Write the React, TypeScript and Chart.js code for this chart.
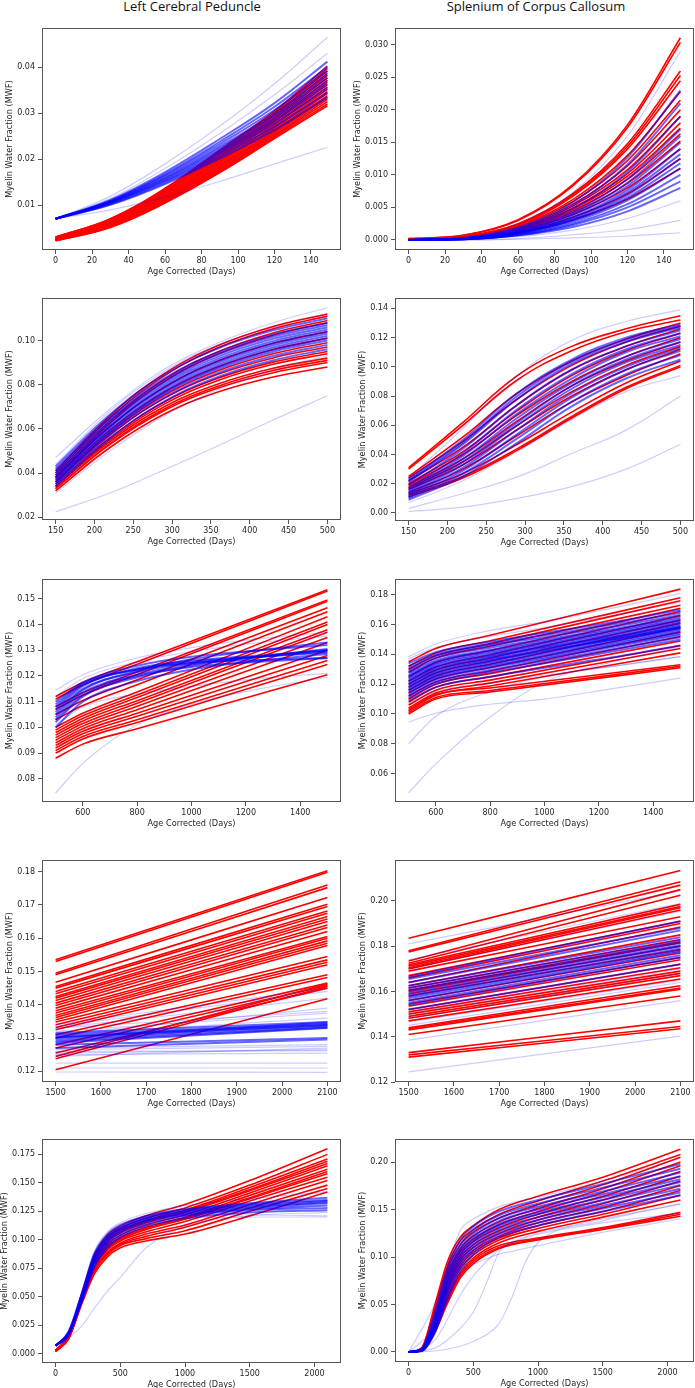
import React, { useEffect, useRef } from 'react';
import { Chart, registerables } from 'chart.js';
Chart.register(...registerables);

// ---------------- Data ----------------
// Ages (days) at which curves were read
const earlyAge = [0, 30, 60, 90, 120, 149];
const midAge = [150, 220, 290, 360, 430, 500];
const lateMidRedAge = [500, 600, 800, 1500];
const lateMidBlueAge = [500, 600, 800, 1000, 1250, 1500];
const lateAge = [1500, 2100];
const fullAge = [0, 100, 200, 300, 400, 500, 700, 1000, 1500, 2100];
const fullFaintAge = [0, 200, 400, 500, 600, 700, 800, 900, 1000, 1500, 2100];

// Tick labels
const earlyAgeTicks = ['0', '20', '40', '60', '80', '100', '120', '140'];
const midAgeTicks = ['150', '200', '250', '300', '350', '400', '450', '500'];
const lateMidAgeTicks = ['600', '800', '1000', '1200', '1400'];
const lateAgeTicks = ['1500', '1600', '1700', '1800', '1900', '2000', '2100'];
const fullAgeTicks = ['0', '500', '1000', '1500', '2000'];
const lcpEarlyMwfTicks = ['0.01', '0.02', '0.03', '0.04'];
const sccEarlyMwfTicks = ['0.000', '0.005', '0.010', '0.015', '0.020', '0.025', '0.030'];
const lcpMidMwfTicks = ['0.02', '0.04', '0.06', '0.08', '0.10'];
const sccMidMwfTicks = ['0.00', '0.02', '0.04', '0.06', '0.08', '0.10', '0.12', '0.14'];
const lcpLateMidMwfTicks = ['0.08', '0.09', '0.10', '0.11', '0.12', '0.13', '0.14', '0.15'];
const sccLateMidMwfTicks = ['0.06', '0.08', '0.10', '0.12', '0.14', '0.16', '0.18'];
const lcpLateMwfTicks = ['0.12', '0.13', '0.14', '0.15', '0.16', '0.17', '0.18'];
const sccLateMwfTicks = ['0.12', '0.14', '0.16', '0.18', '0.20'];
const lcpFullMwfTicks = ['0.000', '0.025', '0.050', '0.075', '0.100', '0.125', '0.150', '0.175'];
const sccFullMwfTicks = ['0.00', '0.05', '0.10', '0.15', '0.20'];

// Left Cerebral Peduncle, 0-149 days
const lcpEarlyRed = [
  [0.0031, 0.0071, 0.0137, 0.022, 0.0305, 0.0402],
  [0.0031, 0.007, 0.0135, 0.0217, 0.0302, 0.0397],
  [0.003, 0.0069, 0.0133, 0.0214, 0.0298, 0.0392],
  [0.003, 0.0068, 0.0131, 0.0211, 0.0295, 0.0387],
  [0.0029, 0.0067, 0.0129, 0.0208, 0.0291, 0.0382],
  [0.0029, 0.0066, 0.0127, 0.0205, 0.0288, 0.0377],
  [0.0028, 0.0065, 0.0125, 0.0202, 0.0284, 0.0372],
  [0.0028, 0.0064, 0.0123, 0.0199, 0.0281, 0.0367],
  [0.0028, 0.0063, 0.0121, 0.0196, 0.0277, 0.0362],
  [0.0027, 0.0062, 0.012, 0.0194, 0.0274, 0.0357],
  [0.0027, 0.0061, 0.0118, 0.0191, 0.027, 0.0352],
  [0.0026, 0.006, 0.0116, 0.0188, 0.0267, 0.0347],
  [0.0026, 0.0059, 0.0114, 0.0185, 0.0263, 0.0343],
  [0.0025, 0.0058, 0.0113, 0.0183, 0.026, 0.0338],
  [0.0025, 0.0057, 0.0111, 0.018, 0.0257, 0.0334],
  [0.0024, 0.0056, 0.011, 0.0178, 0.0254, 0.033],
  [0.0024, 0.0054, 0.0108, 0.0175, 0.0251, 0.0325],
  [0.0023, 0.0053, 0.0107, 0.0173, 0.0248, 0.032],
  [0.0023, 0.0052, 0.0105, 0.0171, 0.0245, 0.0316],
];
const lcpEarlyBlue = [
  [0.0071, 0.0112, 0.0172, 0.0244, 0.0322, 0.0412],
  [0.0071, 0.011, 0.0168, 0.0238, 0.0314, 0.04],
  [0.0071, 0.0109, 0.0165, 0.0233, 0.0307, 0.0392],
  [0.0071, 0.0108, 0.0162, 0.0228, 0.03, 0.0384],
  [0.0071, 0.0107, 0.0159, 0.0224, 0.0295, 0.0377],
  [0.0071, 0.0106, 0.0157, 0.022, 0.0289, 0.037],
  [0.0071, 0.0105, 0.0154, 0.0216, 0.0284, 0.0363],
  [0.0071, 0.0104, 0.0152, 0.0212, 0.0278, 0.0355],
  [0.0071, 0.0102, 0.0149, 0.0207, 0.0271, 0.0345],
  [0.0071, 0.0101, 0.0146, 0.0202, 0.0264, 0.0335],
];
const lcpEarlyBlueFaint = [
  [0.0071, 0.012, 0.019, 0.0272, 0.0364, 0.0465],
  [0.0071, 0.0115, 0.018, 0.0256, 0.034, 0.043],
  [0.0071, 0.009, 0.0118, 0.0152, 0.019, 0.0226],
];

// Splenium of Corpus Callosum, 0-149 days
const sccEarlyRed = [
  [0.0002, 0.0007, 0.0031, 0.0085, 0.0177, 0.0311],
  [0.0002, 0.0007, 0.003, 0.0083, 0.0173, 0.0304],
  [0.0001, 0.0005, 0.0025, 0.0071, 0.0148, 0.026],
  [0.0001, 0.0005, 0.0024, 0.0069, 0.0144, 0.0253],
  [0.0001, 0.0005, 0.0023, 0.0067, 0.014, 0.0245],
  [0.0001, 0.0005, 0.0022, 0.0062, 0.013, 0.0228],
  [0.0001, 0.0004, 0.0021, 0.0059, 0.0122, 0.0215],
  [0.0001, 0.0004, 0.0019, 0.0055, 0.0114, 0.02],
  [0.0001, 0.0004, 0.0018, 0.0052, 0.0108, 0.019],
  [0.0001, 0.0004, 0.0017, 0.0049, 0.0102, 0.018],
  [0.0001, 0.0004, 0.0016, 0.0047, 0.0098, 0.0172],
  [0.0001, 0.0003, 0.0016, 0.0045, 0.0093, 0.0163],
  [0.0001, 0.0003, 0.0015, 0.0042, 0.0087, 0.0152],
  [0.0001, 0.0003, 0.0014, 0.0039, 0.008, 0.014],
  [0.0001, 0.0003, 0.0012, 0.0035, 0.0071, 0.0125],
  [0.0001, 0.0003, 0.0011, 0.0031, 0.0063, 0.011],
];
const sccEarlyBlue = [
  [0, 0.0003, 0.0019, 0.0058, 0.0127, 0.023],
  [0, 0.0003, 0.0017, 0.0053, 0.0116, 0.021],
  [0, 0.0002, 0.0016, 0.0048, 0.0105, 0.019],
  [0, 0.0002, 0.0014, 0.0043, 0.0094, 0.017],
  [0, 0.0002, 0.0013, 0.004, 0.0088, 0.016],
  [0, 0.0002, 0.0012, 0.0038, 0.0083, 0.015],
  [0, 0.0002, 0.0011, 0.0035, 0.0077, 0.014],
  [0, 0.0002, 0.0011, 0.0033, 0.0073, 0.0132],
  [0, 0.0002, 0.001, 0.0031, 0.0069, 0.0125],
  [0, 0.0001, 0.001, 0.003, 0.0065, 0.0118],
  [0, 0.0001, 0.0009, 0.0028, 0.0061, 0.011],
  [0, 0.0001, 0.0008, 0.0025, 0.0055, 0.01],
  [0, 0.0001, 0.0007, 0.0023, 0.005, 0.009],
  [0, 0.0001, 0.0007, 0.002, 0.0044, 0.008],
];
const sccEarlyBlueFaint = [
  [0, 0.0003, 0.0024, 0.0073, 0.016, 0.029],
  [0, 0.0001, 0.0005, 0.0015, 0.0033, 0.006],
  [0, 0, 0.0002, 0.0008, 0.0016, 0.003],
  [0, 0, 0.0001, 0.0003, 0.0006, 0.0011],
];

// Left Cerebral Peduncle, 150-500 days
const lcpMidRed = [
  [0.041, 0.0659, 0.085, 0.0978, 0.1063, 0.112],
  [0.04, 0.0649, 0.084, 0.0968, 0.1053, 0.111],
  [0.039, 0.0635, 0.0824, 0.095, 0.1034, 0.109],
  [0.038, 0.0625, 0.0814, 0.094, 0.1024, 0.108],
  [0.038, 0.0611, 0.0789, 0.0908, 0.0987, 0.104],
  [0.037, 0.0594, 0.0767, 0.0882, 0.0959, 0.101],
  [0.036, 0.0581, 0.0751, 0.0864, 0.094, 0.099],
  [0.036, 0.0574, 0.0738, 0.0848, 0.0921, 0.097],
  [0.035, 0.056, 0.0722, 0.083, 0.0902, 0.095],
  [0.034, 0.055, 0.0712, 0.082, 0.0892, 0.094],
  [0.034, 0.0543, 0.07, 0.0804, 0.0874, 0.092],
  [0.033, 0.0533, 0.069, 0.0794, 0.0864, 0.091],
  [0.033, 0.053, 0.0683, 0.0786, 0.0854, 0.09],
  [0.032, 0.0516, 0.0667, 0.0768, 0.0835, 0.088],
];
const lcpMidBlue = [
  [0.043, 0.0665, 0.0845, 0.0966, 0.1046, 0.11],
  [0.042, 0.0651, 0.0829, 0.0948, 0.1027, 0.108],
  [0.041, 0.0641, 0.0819, 0.0938, 0.1017, 0.107],
  [0.04, 0.0631, 0.0809, 0.0928, 0.1007, 0.106],
  [0.039, 0.0621, 0.0799, 0.0918, 0.0997, 0.105],
  [0.038, 0.0611, 0.0789, 0.0908, 0.0987, 0.104],
  [0.038, 0.0608, 0.0783, 0.09, 0.0978, 0.103],
  [0.037, 0.0598, 0.0773, 0.089, 0.0968, 0.102],
  [0.036, 0.0588, 0.0763, 0.088, 0.0958, 0.101],
  [0.036, 0.0584, 0.0757, 0.0872, 0.0949, 0.1],
  [0.035, 0.0571, 0.0741, 0.0854, 0.093, 0.098],
  [0.034, 0.0557, 0.0724, 0.0836, 0.091, 0.096],
];
const lcpMidBlueFaint = [
  [0.047, 0.069, 0.087, 0.099, 0.108, 0.1148],
  [0.044, 0.068, 0.086, 0.098, 0.106, 0.112],
  [0.0225, 0.031, 0.0415, 0.0525, 0.064, 0.075],
  [0.031, 0.05, 0.066, 0.078, 0.087, 0.093],
];

// Splenium of Corpus Callosum, 150-500 days
const sccMidRed = [
  [0.031, 0.062, 0.094, 0.114, 0.126, 0.135],
  [0.03, 0.06, 0.091, 0.111, 0.124, 0.132],
  [0.025, 0.052, 0.082, 0.104, 0.119, 0.13],
  [0.024, 0.049, 0.078, 0.101, 0.117, 0.128],
  [0.022, 0.045, 0.074, 0.098, 0.114, 0.126],
  [0.02, 0.042, 0.07, 0.094, 0.111, 0.123],
  [0.019, 0.04, 0.067, 0.09, 0.107, 0.12],
  [0.018, 0.037, 0.063, 0.087, 0.104, 0.117],
  [0.017, 0.035, 0.06, 0.083, 0.101, 0.114],
  [0.016, 0.033, 0.057, 0.08, 0.098, 0.112],
  [0.014, 0.03, 0.053, 0.076, 0.094, 0.109],
  [0.013, 0.027, 0.047, 0.069, 0.089, 0.104],
  [0.012, 0.025, 0.044, 0.066, 0.086, 0.101],
  [0.011, 0.024, 0.043, 0.065, 0.085, 0.1],
];
const sccMidBlue = [
  [0.023, 0.05, 0.082, 0.105, 0.12, 0.129],
  [0.022, 0.048, 0.08, 0.1035, 0.1185, 0.128],
  [0.021, 0.047, 0.078, 0.102, 0.117, 0.127],
  [0.019, 0.044, 0.074, 0.098, 0.114, 0.125],
  [0.017, 0.041, 0.071, 0.095, 0.112, 0.123],
  [0.016, 0.039, 0.068, 0.092, 0.11, 0.121],
  [0.015, 0.037, 0.065, 0.089, 0.107, 0.119],
  [0.014, 0.035, 0.062, 0.087, 0.105, 0.117],
  [0.013, 0.033, 0.06, 0.085, 0.103, 0.115],
  [0.012, 0.031, 0.057, 0.082, 0.1, 0.113],
  [0.011, 0.029, 0.054, 0.079, 0.098, 0.111],
  [0.01, 0.027, 0.051, 0.076, 0.095, 0.108],
  [0.009, 0.025, 0.048, 0.073, 0.092, 0.105],
];
const sccMidBlueFaint = [
  [0.024, 0.058, 0.094, 0.118, 0.131, 0.139],
  [0.007, 0.022, 0.042, 0.064, 0.083, 0.094],
  [0.003, 0.0133, 0.0247, 0.0407, 0.0567, 0.08],
  [0.001, 0.004, 0.01, 0.018, 0.03, 0.047],
];

// Left Cerebral Peduncle, 500-1500 days
const lcpLateMidRed = [
  [0.112, 0.1175, 0.1255, 0.1535],
  [0.111, 0.1165, 0.1246, 0.153],
  [0.108, 0.1135, 0.1215, 0.1495],
  [0.107, 0.1125, 0.1206, 0.149],
  [0.105, 0.1105, 0.1185, 0.1465],
  [0.103, 0.1085, 0.1166, 0.145],
  [0.1, 0.1055, 0.1138, 0.143],
  [0.099, 0.1045, 0.1126, 0.141],
  [0.098, 0.1035, 0.1116, 0.14],
  [0.097, 0.1025, 0.1104, 0.138],
  [0.096, 0.1015, 0.1094, 0.137],
  [0.095, 0.1005, 0.1082, 0.135],
  [0.094, 0.0995, 0.1069, 0.133],
  [0.093, 0.0985, 0.1055, 0.13],
  [0.092, 0.0975, 0.1043, 0.128],
  [0.091, 0.0965, 0.103, 0.126],
  [0.09, 0.0955, 0.1019, 0.1245],
  [0.088, 0.0935, 0.0995, 0.1205],
];
const lcpLateMidBlue = [
  [0.108, 0.1165, 0.1225, 0.1255, 0.1275, 0.129],
  [0.106, 0.115, 0.1215, 0.125, 0.1275, 0.1295],
  [0.104, 0.1135, 0.1205, 0.1245, 0.1275, 0.13],
  [0.102, 0.112, 0.1195, 0.124, 0.1275, 0.1305],
  [0.105, 0.1145, 0.122, 0.1265, 0.13, 0.133],
  [0.107, 0.116, 0.123, 0.126, 0.128, 0.13],
  [0.11, 0.1175, 0.124, 0.1275, 0.13, 0.132],
  [0.1, 0.11, 0.118, 0.1225, 0.126, 0.1285],
  [0.103, 0.1125, 0.12, 0.1235, 0.1255, 0.127],
  [0.109, 0.117, 0.1225, 0.125, 0.1262, 0.127],
];
const lcpLateMidBlueFaint = [
  [0.1145, 0.1205, 0.127, 0.131, 0.1345, 0.137],
  [0.112, 0.119, 0.1255, 0.1295, 0.133, 0.1355],
  [0.0745, 0.086, 0.101, 0.109, 0.115, 0.1195],
  [0.101, 0.108, 0.113, 0.116, 0.119, 0.121],
];

// Splenium of Corpus Callosum, 500-1500 days
const sccLateMidRed = [
  [0.135, 0.144, 0.1528, 0.1838],
  [0.132, 0.141, 0.1492, 0.178],
  [0.13, 0.139, 0.1472, 0.176],
  [0.128, 0.1375, 0.1454, 0.173],
  [0.125, 0.1345, 0.1426, 0.171],
  [0.122, 0.1315, 0.1398, 0.169],
  [0.12, 0.1295, 0.1376, 0.166],
  [0.118, 0.1275, 0.1354, 0.163],
  [0.116, 0.1255, 0.1334, 0.161],
  [0.114, 0.1235, 0.1312, 0.158],
  [0.112, 0.1215, 0.1289, 0.155],
  [0.11, 0.12, 0.1271, 0.152],
  [0.108, 0.118, 0.1249, 0.149],
  [0.106, 0.116, 0.1227, 0.146],
  [0.104, 0.114, 0.1207, 0.144],
  [0.102, 0.1125, 0.1188, 0.141],
  [0.103, 0.113, 0.1174, 0.133],
  [0.101, 0.111, 0.1157, 0.132],
  [0.1, 0.11, 0.1147, 0.131],
];
const sccLateMidBlue = [
  [0.134, 0.1415, 0.1485, 0.1545, 0.1615, 0.17],
  [0.132, 0.14, 0.147, 0.153, 0.16, 0.168],
  [0.1305, 0.139, 0.146, 0.1515, 0.1585, 0.1665],
  [0.129, 0.1375, 0.1445, 0.15, 0.157, 0.165],
  [0.1275, 0.136, 0.143, 0.149, 0.156, 0.164],
  [0.126, 0.135, 0.142, 0.148, 0.155, 0.163],
  [0.125, 0.134, 0.141, 0.147, 0.154, 0.162],
  [0.124, 0.133, 0.14, 0.146, 0.153, 0.161],
  [0.123, 0.132, 0.139, 0.145, 0.152, 0.16],
  [0.122, 0.131, 0.1385, 0.1445, 0.1515, 0.159],
  [0.121, 0.13, 0.1375, 0.1435, 0.1505, 0.1585],
  [0.12, 0.129, 0.1365, 0.1425, 0.15, 0.158],
  [0.119, 0.128, 0.136, 0.142, 0.15, 0.1575],
  [0.118, 0.127, 0.135, 0.141, 0.149, 0.157],
  [0.117, 0.126, 0.134, 0.14, 0.148, 0.156],
  [0.116, 0.125, 0.133, 0.139, 0.147, 0.155],
  [0.115, 0.124, 0.132, 0.138, 0.146, 0.154],
  [0.114, 0.123, 0.131, 0.137, 0.145, 0.153],
  [0.1125, 0.1215, 0.1295, 0.1355, 0.1435, 0.1515],
  [0.111, 0.12, 0.128, 0.134, 0.142, 0.15],
  [0.109, 0.118, 0.125, 0.131, 0.138, 0.146],
];
const sccLateMidBlueFaint = [
  [0.1385, 0.147, 0.156, 0.162, 0.171, 0.181],
  [0.137, 0.1445, 0.152, 0.158, 0.166, 0.175],
  [0.107, 0.115, 0.121, 0.126, 0.132, 0.1385],
  [0.0945, 0.1005, 0.1065, 0.11, 0.117, 0.124],
  [0.08, 0.0985, 0.115, 0.125, 0.132, 0.1385],
  [0.047, 0.0665, 0.098, 0.1215, 0.135, 0.145],
];

// Left Cerebral Peduncle, 1500-2100 days (start, end)
const lcpLateRed = [
  [0.1535, 0.1803], [0.153, 0.1798], [0.1495, 0.176], [0.149, 0.1752],
  [0.1468, 0.1722], [0.1455, 0.1702], [0.145, 0.1695], [0.144, 0.1682],
  [0.1433, 0.1675], [0.1425, 0.1665], [0.142, 0.1658], [0.1413, 0.165],
  [0.1405, 0.164], [0.1398, 0.1632], [0.139, 0.162], [0.1382, 0.1605],
  [0.1375, 0.16], [0.1368, 0.1592], [0.1362, 0.1585], [0.1355, 0.1578],
  [0.1348, 0.1545], [0.134, 0.1535], [0.1332, 0.1528], [0.1325, 0.152],
  [0.131, 0.149], [0.13, 0.1482], [0.128, 0.1465], [0.127, 0.1458],
  [0.1255, 0.145], [0.1245, 0.1462], [0.1238, 0.1455], [0.1205, 0.1418],
];
const lcpLateBlue = [
  [0.13, 0.134], [0.1295, 0.1335], [0.1305, 0.1338], [0.131, 0.1342],
  [0.129, 0.1332], [0.1302, 0.1346], [0.1285, 0.133], [0.1315, 0.1348],
  [0.128, 0.13], [0.127, 0.1296],
];
const lcpLateBlueFaint = [
  [0.132, 0.1375], [0.133, 0.138], [0.131, 0.136], [0.1335, 0.144],
  [0.133, 0.142], [0.134, 0.145], [0.1265, 0.1275], [0.1255, 0.1265],
  [0.125, 0.1255], [0.1245, 0.127], [0.1225, 0.1225], [0.121, 0.121],
  [0.1198, 0.1197], [0.127, 0.128], [0.131, 0.139], [0.129, 0.135], [0.126, 0.1262],
];

// Splenium of Corpus Callosum, 1500-2100 days (start, end)
const sccLateRed = [
  [0.1835, 0.2135], [0.178, 0.2085], [0.1775, 0.207], [0.1735, 0.205],
  [0.1725, 0.2025], [0.1718, 0.1985], [0.1712, 0.1975], [0.1705, 0.197],
  [0.17, 0.196], [0.169, 0.193], [0.167, 0.191], [0.166, 0.19],
  [0.164, 0.1885], [0.1625, 0.185], [0.1615, 0.183], [0.1605, 0.182],
  [0.16, 0.1815], [0.159, 0.18], [0.158, 0.1785], [0.156, 0.177],
  [0.1545, 0.175], [0.1535, 0.174], [0.152, 0.172], [0.151, 0.1705],
  [0.15, 0.169], [0.149, 0.168], [0.1482, 0.167], [0.147, 0.1655],
  [0.144, 0.1625], [0.1435, 0.1615], [0.143, 0.161], [0.141, 0.158],
  [0.133, 0.147], [0.132, 0.1445], [0.131, 0.1435],
];
const sccLateBlue = [
  [0.1665, 0.191], [0.1655, 0.188], [0.164, 0.187], [0.1625, 0.184],
  [0.1615, 0.1825], [0.1605, 0.1815], [0.1595, 0.1805], [0.1585, 0.18],
  [0.1578, 0.179], [0.157, 0.178], [0.156, 0.1775], [0.155, 0.176],
  [0.154, 0.175], [0.152, 0.172],
];
const sccLateBlueFaint = [
  [0.181, 0.2045], [0.174, 0.199], [0.17, 0.1955], [0.1505, 0.17],
  [0.148, 0.168], [0.1465, 0.165], [0.145, 0.164], [0.1385, 0.156], [0.1245, 0.1403],
];

// Left Cerebral Peduncle, 0-2100 days
const lcpFullRed = [
  [0.003, 0.016, 0.052, 0.087, 0.104, 0.112, 0.121, 0.131, 0.152, 0.18],
  [0.003, 0.016, 0.051, 0.085, 0.102, 0.11, 0.119, 0.128, 0.148, 0.175],
  [0.003, 0.015, 0.05, 0.083, 0.1, 0.108, 0.117, 0.126, 0.146, 0.171],
  [0.003, 0.015, 0.049, 0.082, 0.099, 0.107, 0.116, 0.125, 0.144, 0.169],
  [0.003, 0.015, 0.049, 0.081, 0.098, 0.106, 0.115, 0.124, 0.143, 0.167],
  [0.003, 0.015, 0.048, 0.079, 0.096, 0.104, 0.113, 0.122, 0.141, 0.165],
  [0.003, 0.014, 0.047, 0.078, 0.094, 0.102, 0.111, 0.12, 0.139, 0.162],
  [0.002, 0.014, 0.047, 0.077, 0.093, 0.101, 0.11, 0.119, 0.137, 0.16],
  [0.002, 0.014, 0.046, 0.076, 0.092, 0.1, 0.109, 0.118, 0.136, 0.158],
  [0.002, 0.014, 0.046, 0.075, 0.091, 0.099, 0.107, 0.116, 0.134, 0.155],
  [0.002, 0.014, 0.045, 0.074, 0.089, 0.097, 0.105, 0.113, 0.131, 0.152],
  [0.002, 0.013, 0.044, 0.073, 0.088, 0.096, 0.103, 0.111, 0.128, 0.148],
  [0.002, 0.013, 0.044, 0.072, 0.087, 0.095, 0.101, 0.108, 0.125, 0.145],
  [0.002, 0.013, 0.043, 0.07, 0.085, 0.093, 0.099, 0.105, 0.121, 0.142],
];
const lcpFullBlue = [
  [0.007, 0.019, 0.052, 0.088, 0.105, 0.113, 0.121, 0.127, 0.132, 0.137],
  [0.007, 0.019, 0.051, 0.086, 0.103, 0.111, 0.12, 0.126, 0.131, 0.135],
  [0.007, 0.018, 0.05, 0.085, 0.102, 0.11, 0.119, 0.125, 0.13, 0.134],
  [0.007, 0.018, 0.049, 0.083, 0.1, 0.109, 0.118, 0.124, 0.129, 0.133],
  [0.007, 0.018, 0.048, 0.082, 0.099, 0.108, 0.117, 0.123, 0.128, 0.132],
  [0.007, 0.017, 0.047, 0.08, 0.097, 0.106, 0.116, 0.122, 0.127, 0.13],
  [0.007, 0.017, 0.046, 0.078, 0.095, 0.104, 0.114, 0.121, 0.126, 0.128],
  [0.007, 0.016, 0.045, 0.076, 0.093, 0.102, 0.112, 0.119, 0.124, 0.126],
];
const lcpFullBlueFaint = [
  [0.007, 0.014, 0.024, 0.04, 0.055, 0.067, 0.093, 0.112, 0.121, 0.124],
  [0.007, 0.018, 0.05, 0.084, 0.101, 0.11, 0.118, 0.121, 0.122, 0.121],
  [0.007, 0.017, 0.047, 0.08, 0.097, 0.106, 0.115, 0.119, 0.12, 0.12],
  [0.007, 0.02, 0.054, 0.09, 0.107, 0.115, 0.123, 0.13, 0.136, 0.142],
];

// Splenium of Corpus Callosum, 0-2100 days
const sccFullRed = [
  [0, 0.004, 0.048, 0.095, 0.121, 0.133, 0.15, 0.164, 0.184, 0.2135],
  [0, 0.004, 0.045, 0.091, 0.117, 0.129, 0.145, 0.159, 0.18, 0.208],
  [0, 0.004, 0.042, 0.087, 0.113, 0.126, 0.141, 0.155, 0.176, 0.205],
  [0, 0.003, 0.04, 0.083, 0.109, 0.122, 0.137, 0.151, 0.172, 0.2],
  [0, 0.003, 0.038, 0.08, 0.106, 0.119, 0.134, 0.148, 0.168, 0.196],
  [0, 0.003, 0.036, 0.077, 0.103, 0.116, 0.131, 0.145, 0.164, 0.19],
  [0, 0.003, 0.034, 0.074, 0.1, 0.113, 0.128, 0.142, 0.16, 0.185],
  [0, 0.002, 0.032, 0.071, 0.097, 0.11, 0.125, 0.139, 0.156, 0.18],
  [0, 0.002, 0.03, 0.068, 0.094, 0.107, 0.122, 0.136, 0.152, 0.175],
  [0, 0.002, 0.028, 0.065, 0.091, 0.105, 0.12, 0.133, 0.148, 0.17],
  [0, 0.002, 0.026, 0.062, 0.088, 0.102, 0.118, 0.13, 0.145, 0.165],
  [0, 0.002, 0.024, 0.058, 0.084, 0.099, 0.115, 0.127, 0.142, 0.16],
  [0, 0.002, 0.022, 0.055, 0.082, 0.097, 0.112, 0.12, 0.131, 0.147],
  [0, 0.002, 0.021, 0.053, 0.08, 0.095, 0.11, 0.119, 0.13, 0.145],
  [0, 0.001, 0.02, 0.051, 0.078, 0.093, 0.109, 0.118, 0.129, 0.143],
];
const sccFullBlue = [
  [0, 0.003, 0.04, 0.088, 0.118, 0.132, 0.148, 0.16, 0.177, 0.198],
  [0, 0.003, 0.036, 0.083, 0.113, 0.128, 0.144, 0.156, 0.173, 0.193],
  [0, 0.002, 0.033, 0.079, 0.109, 0.124, 0.141, 0.153, 0.169, 0.189],
  [0, 0.002, 0.031, 0.076, 0.106, 0.121, 0.138, 0.15, 0.166, 0.185],
  [0, 0.002, 0.029, 0.073, 0.103, 0.118, 0.135, 0.147, 0.163, 0.182],
  [0, 0.002, 0.027, 0.07, 0.1, 0.116, 0.133, 0.145, 0.16, 0.179],
  [0, 0.002, 0.025, 0.067, 0.097, 0.113, 0.13, 0.142, 0.157, 0.176],
  [0, 0.001, 0.023, 0.064, 0.094, 0.11, 0.127, 0.139, 0.154, 0.172],
  [0, 0.001, 0.021, 0.06, 0.09, 0.107, 0.124, 0.136, 0.151, 0.168],
  [0, 0.001, 0.019, 0.056, 0.086, 0.103, 0.121, 0.133, 0.148, 0.165],
];
// read at fullFaintAge
const sccFullBlueFaint = [
  [0, 0.05, 0.128, 0.14, 0.147, 0.153, 0.157, 0.16, 0.163, 0.18, 0.204],
  [0, 0.004, 0.025, 0.042, 0.072, 0.105, 0.115, 0.12, 0.124, 0.136, 0.146],
  [0, 0.001, 0.006, 0.011, 0.018, 0.03, 0.058, 0.094, 0.115, 0.138, 0.156],
  [0, 0.025, 0.082, 0.092, 0.098, 0.103, 0.106, 0.109, 0.112, 0.126, 0.14],
  [0, 0.012, 0.06, 0.08, 0.095, 0.108, 0.116, 0.121, 0.125, 0.14, 0.156],
];

// ---------------- Layout & style ----------------
type Kind = 'red' | 'blue' | 'faint';
type Group = { age: number[]; curves: number[][]; kind: Kind };
type PanelSpec = {
  col: 0 | 1;
  plot: [number, number, number, number];
  xRange: [number, number];
  yRange: [number, number];
  xTicks: string[];
  yTicks: string[];
  yTitleX: number;
  smooth: 'spline' | 'monotone';
  groups: Group[];
};

const STYLE: Record<Kind, { color: string; width: number; order: number }> = {
  red: { color: 'rgba(255,0,0,1)', width: 1.6, order: 3 },
  blue: { color: 'rgba(0,0,255,0.6)', width: 2, order: 2 },
  faint: { color: 'rgba(0,0,255,0.2)', width: 1.2, order: 1 },
};

const AXIS_COLOR = '#555555';
const TEXT_COLOR = '#262626';
const TICK_FONT = { family: '"DejaVu Sans", sans-serif', size: 8 };
const LABEL_FONT = { family: '"DejaVu Sans", sans-serif', size: 8.2 };

const panels: PanelSpec[] = [
  {
    col: 0, plot: [42, 28, 341, 250], xRange: [-7.45, 156.45], yRange: [0.0003, 0.0485],
    xTicks: earlyAgeTicks, yTicks: lcpEarlyMwfTicks, yTitleX: 10, smooth: 'spline',
    groups: [
      { age: earlyAge, curves: lcpEarlyRed, kind: 'red' },
      { age: earlyAge, curves: lcpEarlyBlue, kind: 'blue' },
      { age: earlyAge, curves: lcpEarlyBlueFaint, kind: 'faint' },
    ],
  },
  {
    col: 1, plot: [395, 28, 694, 250], xRange: [-7.45, 156.45], yRange: [-0.00155, 0.0326],
    xTicks: earlyAgeTicks, yTicks: sccEarlyMwfTicks, yTitleX: 357.7, smooth: 'monotone',
    groups: [
      { age: earlyAge, curves: sccEarlyRed, kind: 'red' },
      { age: earlyAge, curves: sccEarlyBlue, kind: 'blue' },
      { age: earlyAge, curves: sccEarlyBlueFaint, kind: 'faint' },
    ],
  },
  {
    col: 0, plot: [42, 298, 341, 520], xRange: [132.5, 517.5], yRange: [0.0188, 0.1192],
    xTicks: midAgeTicks, yTicks: lcpMidMwfTicks, yTitleX: 10, smooth: 'spline',
    groups: [
      { age: midAge, curves: lcpMidRed, kind: 'red' },
      { age: midAge, curves: lcpMidBlue, kind: 'blue' },
      { age: midAge, curves: lcpMidBlueFaint, kind: 'faint' },
    ],
  },
  {
    col: 1, plot: [395, 298, 694, 520.5], xRange: [132.5, 517.5], yRange: [-0.0055, 0.1471],
    xTicks: midAgeTicks, yTicks: sccMidMwfTicks, yTitleX: 363, smooth: 'spline',
    groups: [
      { age: midAge, curves: sccMidRed, kind: 'red' },
      { age: midAge, curves: sccMidBlue, kind: 'blue' },
      { age: midAge, curves: sccMidBlueFaint, kind: 'faint' },
    ],
  },
  {
    col: 0, plot: [42, 579, 341, 801.5], xRange: [450, 1550], yRange: [0.071, 0.1577],
    xTicks: lateMidAgeTicks, yTicks: lcpLateMidMwfTicks, yTitleX: 9.5, smooth: 'monotone',
    groups: [
      { age: lateMidRedAge, curves: lcpLateMidRed, kind: 'red' },
      { age: lateMidBlueAge, curves: lcpLateMidBlue, kind: 'blue' },
      { age: lateMidBlueAge, curves: lcpLateMidBlueFaint, kind: 'faint' },
    ],
  },
  {
    col: 1, plot: [395, 579, 694, 801.5], xRange: [450, 1550], yRange: [0.0409, 0.1906],
    xTicks: lateMidAgeTicks, yTicks: sccLateMidMwfTicks, yTitleX: 363, smooth: 'monotone',
    groups: [
      { age: lateMidRedAge, curves: sccLateMidRed, kind: 'red' },
      { age: lateMidBlueAge, curves: sccLateMidBlue, kind: 'blue' },
      { age: lateMidBlueAge, curves: sccLateMidBlueFaint, kind: 'faint' },
    ],
  },
  {
    col: 0, plot: [42, 860, 341, 1082], xRange: [1470, 2130], yRange: [0.1168, 0.1835],
    xTicks: lateAgeTicks, yTicks: lcpLateMwfTicks, yTitleX: 10, smooth: 'spline',
    groups: [
      { age: lateAge, curves: lcpLateRed, kind: 'red' },
      { age: lateAge, curves: lcpLateBlue, kind: 'blue' },
      { age: lateAge, curves: lcpLateBlueFaint, kind: 'faint' },
    ],
  },
  {
    col: 1, plot: [395, 860, 694, 1082], xRange: [1470, 2130], yRange: [0.12, 0.2181],
    xTicks: lateAgeTicks, yTicks: sccLateMwfTicks, yTitleX: 363, smooth: 'spline',
    groups: [
      { age: lateAge, curves: sccLateRed, kind: 'red' },
      { age: lateAge, curves: sccLateBlue, kind: 'blue' },
      { age: lateAge, curves: sccLateBlueFaint, kind: 'faint' },
    ],
  },
  {
    col: 0, plot: [42, 1139, 341, 1363], xRange: [-105, 2205], yRange: [-0.0082, 0.1885],
    xTicks: fullAgeTicks, yTicks: lcpFullMwfTicks, yTitleX: 4.5, smooth: 'monotone',
    groups: [
      { age: fullAge, curves: lcpFullRed, kind: 'red' },
      { age: fullAge, curves: lcpFullBlue, kind: 'blue' },
      { age: fullAge, curves: lcpFullBlueFaint, kind: 'faint' },
    ],
  },
  {
    col: 1, plot: [395, 1139, 694, 1362], xRange: [-105, 2205], yRange: [-0.0106, 0.2243],
    xTicks: fullAgeTicks, yTicks: sccFullMwfTicks, yTitleX: 363, smooth: 'monotone',
    groups: [
      { age: fullAge, curves: sccFullRed, kind: 'red' },
      { age: fullAge, curves: sccFullBlue, kind: 'blue' },
      { age: fullFaintAge, curves: sccFullBlueFaint, kind: 'faint' },
    ],
  },
];

const boxPlugin = {
  id: 'frameBox',
  afterDraw(chart: any) {
    const { ctx, chartArea } = chart;
    const l = Math.round(chartArea.left) + 0.5;
    const t = Math.round(chartArea.top) + 0.5;
    const r = Math.round(chartArea.right) - 0.5;
    const b = Math.round(chartArea.bottom) - 0.5;
    ctx.save();
    ctx.strokeStyle = AXIS_COLOR;
    ctx.lineWidth = 1;
    ctx.strokeRect(l, t, r - l, b - t);
    ctx.restore();
  },
};

function Panel({ spec }: { spec: PanelSpec }) {
  const ref = useRef<HTMLCanvasElement>(null);
  const colLeft = spec.col === 0 ? 0 : 347;
  const colRight = spec.col === 0 ? 347 : 695;
  const [pl, pt, pr, pb] = spec.plot;
  const top = pt - 10;
  const bottom = pb + 30;
  const W = colRight - colLeft;
  const H = Math.round(bottom - top);

  useEffect(() => {
    const datasets: any[] = [];
    spec.groups.forEach((g) => {
      const st = STYLE[g.kind];
      g.curves.forEach((c) => {
        datasets.push({
          data: c.map((y, i) => ({ x: g.age[i], y })),
          borderColor: st.color,
          borderWidth: st.width,
          order: st.order,
          pointRadius: 0,
          fill: false,
          cubicInterpolationMode: spec.smooth === 'monotone' ? 'monotone' : 'default',
          tension: spec.smooth === 'monotone' ? 0 : 0.4,
        });
      });
    });
    const xVals = spec.xTicks.map(Number);
    const yVals = spec.yTicks.map(Number);
    const lh = LABEL_FONT.size * 1.2;
    const chart = new Chart(ref.current as HTMLCanvasElement, {
      type: 'line',
      data: { datasets },
      plugins: [boxPlugin],
      options: {
        animation: false,
        responsive: false,
        maintainAspectRatio: false,
        devicePixelRatio: 1,
        events: [],
        layout: { padding: { top: pt - top, right: colRight - pr, left: 0, bottom: 0 } },
        plugins: { legend: { display: false }, tooltip: { enabled: false }, title: { display: false } },
        scales: {
          x: {
            type: 'linear',
            bounds: 'data',
            min: spec.xRange[0],
            max: spec.xRange[1],
            afterFit: (s: any) => { s.height = bottom - pb; },
            afterBuildTicks: (s: any) => { s.ticks = xVals.map((v) => ({ value: v })); },
            ticks: {
              autoSkip: false,
              maxRotation: 0,
              padding: 2,
              color: TEXT_COLOR,
              font: TICK_FONT,
              callback: (_v: any, i: number) => spec.xTicks[i],
            },
            grid: { display: true, drawOnChartArea: false, drawTicks: true, tickLength: 4, color: AXIS_COLOR, tickColor: AXIS_COLOR },
            border: { display: false },
            title: {
              display: true,
              text: 'Age Corrected (Days)',
              color: TEXT_COLOR,
              font: LABEL_FONT,
              padding: { top: 0, bottom: 30 - 21.5 - lh / 2 },
            },
          },
          y: {
            type: 'linear',
            bounds: 'data',
            min: spec.yRange[0],
            max: spec.yRange[1],
            afterFit: (s: any) => { s.width = pl - colLeft; },
            afterBuildTicks: (s: any) => { s.ticks = yVals.map((v) => ({ value: v })); },
            ticks: {
              autoSkip: false,
              padding: 3,
              color: TEXT_COLOR,
              font: TICK_FONT,
              callback: (_v: any, i: number) => spec.yTicks[i],
            },
            grid: { display: true, drawOnChartArea: false, drawTicks: true, tickLength: 4, color: AXIS_COLOR, tickColor: AXIS_COLOR },
            border: { display: false },
            title: {
              display: true,
              text: 'Myelin Water Fraction (MWF)',
              color: TEXT_COLOR,
              font: LABEL_FONT,
              padding: { top: spec.yTitleX - colLeft - lh / 2, bottom: 0 },
            },
          },
        },
      } as any,
    });
    return () => chart.destroy();
  }, []);

  return (
    <canvas
      ref={ref}
      width={W}
      height={H}
      style={{ position: 'absolute', left: colLeft, top, width: W, height: H }}
    />
  );
}

const titleStyle: React.CSSProperties = {
  position: 'absolute',
  top: 0,
  width: 300,
  textAlign: 'center',
  fontFamily: '"Open Sans", sans-serif',
  fontSize: 13,
  lineHeight: '13px',
  color: '#111',
  whiteSpace: 'nowrap',
};

export default function App() {
  return (
    <div style={{ position: 'absolute', left: 0, top: 0, width: 695, height: 1388, background: '#fff', overflow: 'hidden' }}>
      <div style={{ ...titleStyle, left: 192 - 150 }}>Left Cerebral Peduncle</div>
      <div style={{ ...titleStyle, left: 536 - 150 }}>Splenium of Corpus Callosum</div>
      {panels.map((p, i) => (
        <Panel key={i} spec={p} />
      ))}
    </div>
  );
}
